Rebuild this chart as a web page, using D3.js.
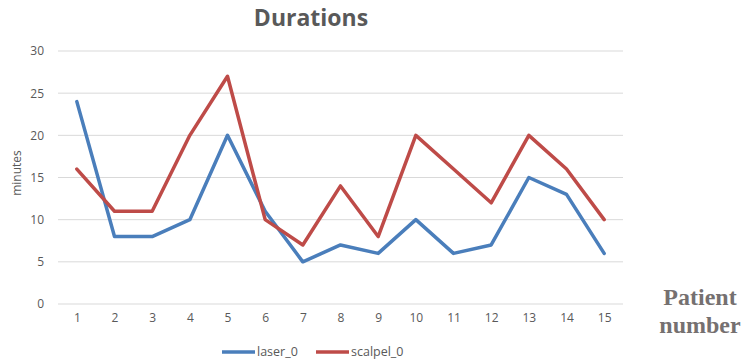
<!DOCTYPE html>
<html>
<head>
<meta charset="utf-8">
<script src="https://cdn.jsdelivr.net/npm/d3@7"></script>
<style>
  body { margin: 0; background: #fff; }
  text { font-family: "Open Sans", "DejaVu Sans", sans-serif; }
</style>
</head>
<body>
<div id="chart"></div>
<script>
// chart data
const patients = [1, 2, 3, 4, 5, 6, 7, 8, 9, 10, 11, 12, 13, 14, 15];
const laser = [24, 8, 8, 10, 20, 11, 5, 7, 6, 10, 6, 7, 15, 13, 6];
const scalpel = [16, 11, 11, 20, 27, 10, 7, 14, 8, 20, 16, 12, 20, 16, 10];
const yTicks = [0, 5, 10, 15, 20, 25, 30];
const seriesNames = ['laser_0', 'scalpel_0'];
const colors = ['#4a7ebb', '#be4b48'];

const width = 744, height = 360;
const margin = { top: 51, right: 121, bottom: 56, left: 58 };

const svg = d3.select('#chart').append('svg')
    .attr('width', width)
    .attr('height', height);

const x = d3.scalePoint()
    .domain(patients)
    .range([margin.left, width - margin.right])
    .padding(0.5);

const y = d3.scaleLinear()
    .domain([0, 30])
    .range([height - margin.bottom, margin.top]);

// gridlines
svg.append('g')
    .selectAll('line')
    .data(yTicks)
    .join('line')
    .attr('x1', margin.left)
    .attr('x2', width - margin.right)
    .attr('y1', d => y(d))
    .attr('y2', d => y(d))
    .attr('stroke', '#d9d9d9')
    .attr('stroke-width', 1);

// y axis labels
const yAxis = d3.axisLeft(y).tickValues(yTicks).tickSize(0).tickPadding(14);
svg.append('g')
    .attr('transform', `translate(${margin.left},0)`)
    .call(yAxis)
    .call(g => g.select('.domain').remove())
    .call(g => g.selectAll('text')
        .attr('fill', '#595959')
        .style('font-size', '12px'));

// x axis labels
const xAxis = d3.axisBottom(x).tickSize(0).tickPadding(9);
svg.append('g')
    .attr('transform', `translate(0,${height - margin.bottom})`)
    .call(xAxis)
    .call(g => g.select('.domain').remove())
    .call(g => g.selectAll('text')
        .attr('fill', '#595959')
        .style('font-size', '12px'));

// lines
const line = d3.line()
    .x((d, i) => x(patients[i]))
    .y(d => y(d));

[laser, scalpel].forEach((vals, i) => {
    svg.append('path')
        .datum(vals)
        .attr('d', line)
        .attr('fill', 'none')
        .attr('stroke', colors[i])
        .attr('stroke-width', 3.5)
        .attr('stroke-linejoin', 'round')
        .attr('stroke-linecap', 'round');
});

// title
svg.append('text')
    .attr('x', 311)
    .attr('y', 26)
    .attr('text-anchor', 'middle')
    .attr('fill', '#595959')
    .style('font-size', '23px')
    .style('font-weight', 'bold')
    .text('Durations');

// y axis title
svg.append('text')
    .attr('transform', 'translate(21,173) rotate(-90)')
    .attr('text-anchor', 'middle')
    .attr('fill', '#595959')
    .style('font-size', '12px')
    .text('minutes');

// legend
const legend = svg.append('g').attr('transform', 'translate(222,352)');
const legendX = [0, 94];
seriesNames.forEach((name, i) => {
    const item = legend.append('g').attr('transform', `translate(${legendX[i]},0)`);
    item.append('line')
        .attr('x1', 0).attr('x2', 33)
        .attr('y1', 0).attr('y2', 0)
        .attr('stroke', colors[i])
        .attr('stroke-width', 3.5);
    item.append('text')
        .attr('x', 35)
        .attr('y', 4)
        .attr('fill', '#595959')
        .style('font-size', '12.5px')
        .text(name);
});

// patient number label
const pn = svg.append('text')
    .attr('text-anchor', 'middle')
    .attr('fill', '#757070')
    .style('font-family', '"Liberation Serif", serif')
    .style('font-weight', 'bold')
    .style('font-size', '24px');
pn.append('tspan').attr('x', 700).attr('y', 305).text('Patient');
pn.append('tspan').attr('x', 700).attr('y', 333).text('number');
</script>
</body>
</html>
